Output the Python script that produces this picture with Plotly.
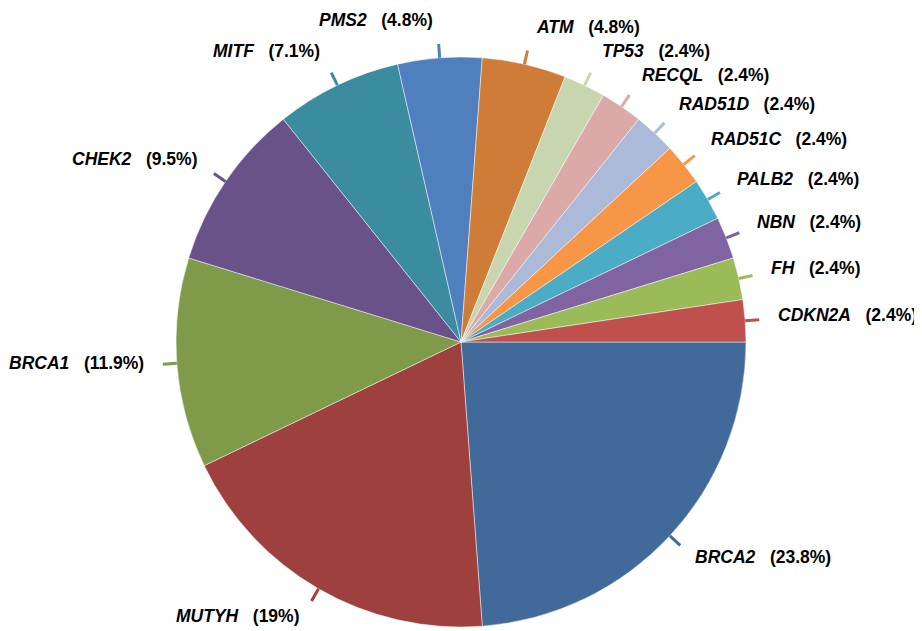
import math
import plotly.graph_objects as go

genes = ["BRCA2", "MUTYH", "BRCA1", "CHEK2", "MITF", "PMS2", "ATM", "TP53",
         "RECQL", "RAD51D", "RAD51C", "PALB2", "NBN", "FH", "CDKN2A"]
counts = [10, 8, 5, 4, 3, 2, 2, 1, 1, 1, 1, 1, 1, 1, 1]
colors = ["#416A9B", "#9D403E", "#7F9A48", "#69518A", "#3B8BA1", "#4F80BD",
          "#CF7C38", "#C7D6AE", "#DCA9A9", "#AABAD8", "#F79646", "#4BACC6",
          "#8064A2", "#9BBB59", "#C0504D"]

# page body has an 8px margin; the figure is sized to fill the rest of the window
OFF = 8
W, H = 922 - OFF, 631 - OFF
CX, CY, R = 461, 342, 285   # window pixels
TICK = 14


def px(x):
    return (x - OFF) / W


def py(y):
    return 1 - (y - OFF) / H


fig = go.Figure(go.Pie(
    labels=genes, values=counts, sort=False, direction="clockwise", rotation=90,
    marker=dict(colors=colors, line=dict(color="rgba(255,255,255,0.6)", width=0.8)),
    textinfo="none", hoverinfo="label+percent", showlegend=False,
    domain=dict(x=[px(CX - R), px(CX + R)], y=[max(0, py(CY + R)), py(CY - R)]),
))

total = sum(counts)
shapes, annotations = [], []
cum = 0
for g, v, col in zip(genes, counts, colors):
    mid = (cum + v / 2) / total * 2 * math.pi  # clockwise from 3 o'clock
    cum += v
    c, s = math.cos(mid), math.sin(mid)  # s positive = downward on screen
    x0, y0 = CX + R * c, CY + R * s
    x1, y1 = CX + (R + TICK) * c, CY + (R + TICK) * s
    shapes.append(dict(type="line", xref="paper", yref="paper",
                       x0=px(x0), y0=py(y0), x1=px(x1), y1=py(y1),
                       line=dict(color=col, width=3)))
    pct = round(v / total * 100, 1)
    pct_txt = ("%d" % pct) if abs(pct - round(pct)) < 1e-9 else ("%.1f" % pct)
    sign = 1 if c >= 0 else -1
    lx = x1 + 14 * c + 3 * sign
    ly = y1 + 21 * s - 3
    annotations.append(dict(
        xref="paper", yref="paper", x=px(lx), y=py(ly),
        xanchor="left" if c >= 0 else "right", yanchor="middle",
        text="<b><i>%s</i>\u00a0\u00a0\u00a0(%s%%)</b>" % (g, pct_txt),
        showarrow=False,
        font=dict(family="Liberation Sans, Arial, sans-serif", size=17.5, color="#000000"),
    ))

fig.update_layout(
    width=W, height=H, margin=dict(l=0, r=0, t=0, b=0),
    paper_bgcolor="white", plot_bgcolor="white",
    shapes=shapes, annotations=annotations,
)

fig.write_html("out.html")
